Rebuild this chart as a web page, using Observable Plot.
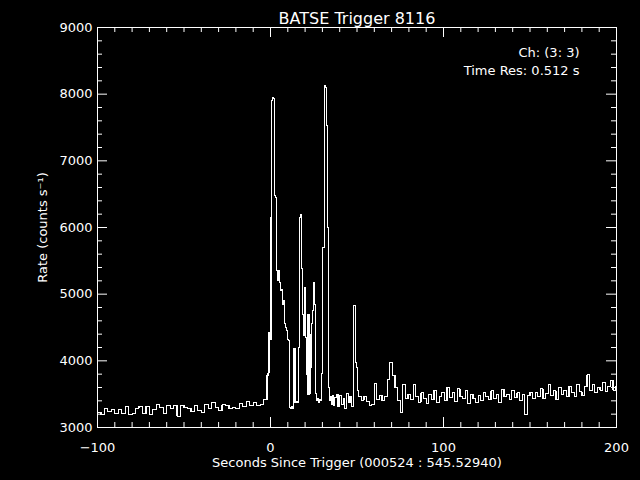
<!DOCTYPE html>
<html><head><meta charset="utf-8">
<script src="https://cdn.jsdelivr.net/npm/d3@7"></script>
<script src="https://cdn.jsdelivr.net/npm/@observablehq/plot@0.6"></script>
<style>html,body{margin:0;padding:0;background:#000;}</style>
</head><body><div id="chart"></div>
<script>
// ---- data ----
const title = "BATSE Trigger 8116";
const xLabel = "Seconds Since Trigger (000524 : 545.52940)";
const yLabel = "Rate (counts s\u207B\u00B9)";
const noteLines = ["Ch: (3: 3)", "Time Res: 0.512 s"];

const xMajor = [-100, 0, 100, 200];
const yMajor = [3000, 4000, 5000, 6000, 7000, 8000, 9000];

// pre-trigger background: bins of 2 s starting at -100
const preStart = -100, preStep = 2;
const preRate = [3230,3200,3280,3240,3270,3210,3265,3210,3310,3200,
                 3215,3290,3315,3210,3310,3200,3265,3340,3300,3210,
                 3330,3285,3330,3170,3330,3300,3290,3240,3330,3260,
                 3230,3340,3280,3370,3300,3250,3340,3330,3290,3300,
                 3290,3360,3320,3390,3330,3380,3330,3340,3420];

// burst region: bin start times and rates
const burstTime = [-2.0,-1.4,-0.9,-0.3,0.3,0.8,1.3,1.9,2.5,3.1,3.6,4.1,4.7,5.2,5.8,6.3,6.9,7.4,8.0,8.5,
                   9.1,9.6,10.2,10.8,11.4,12.0,12.5,13.1,13.6,14.2,14.8,15.4,16.0,16.6,17.2,17.8,18.4,18.9,19.5,20.0,
                   20.6,21.2,21.7,22.2,22.8,23.3,23.9,24.4,25.0,25.6,26.2,26.7,27.3,27.9,28.4,29.0,29.6,30.2,31.0,31.6,
                   32.2,32.9,33.5,34.1,34.7,35.3,35.9,36.5,37.2,38.0,39.0,40.0,41.0,42.0,43.0,44.0,45.0,46.0,47.0,48.2,
                   49.1,49.7,50.4];
const burstRate = [3780,3820,4420,4320,6150,7900,7950,7930,6480,6450,5350,5200,5350,5180,5050,5070,4850,4900,4560,4500,
                   4450,4320,4300,3300,3290,3310,3290,3550,4190,3370,3390,3370,4200,6150,6200,5390,4700,4380,5100,4350,
                   3800,3500,4700,3500,4400,3900,4560,4755,5175,4850,3510,3400,3440,3380,3420,3400,3810,5700,8130,8100,
                   7530,6000,3600,3400,3460,3350,3480,3330,3450,3500,3320,3480,3350,3440,3290,3510,3380,3470,3320,4830,
                   3980,3900,3560];

// post-burst background: bins of 1.5 s starting at 51
const postStart = 51, postStep = 1.5;
const postRate = [3460,3410,3470,3390,3330,3340,3660,3420,3480,3400,
                  3470,3720,3980,3780,3600,3400,3230,3650,3440,3500,
                  3420,3650,3460,3380,3520,3430,3360,3490,3420,3560,
                  3380,3470,3520,3400,3600,3450,3530,3390,3580,3470,
                  3430,3560,3360,3500,3440,3380,3480,3400,3520,3460,
                  3420,3550,3430,3490,3380,3570,3460,3500,3420,3560,
                  3450,3520,3400,3500,3190,3480,3530,3440,3520,3470,
                  3580,3440,3510,3640,3480,3550,3420,3600,3500,3560,
                  3460,3620,3520,3470,3650,3540,3480,3620,3790,3560,
                  3640,3520,3600,3560,3680,3540,3610,3700,3560,3620];

// ---- build table ----
const data = [];
preRate.forEach((r, i) => data.push({t: preStart + i * preStep, rate: r}));
burstTime.forEach((t, i) => data.push({t, rate: burstRate[i]}));
postRate.forEach((r, i) => data.push({t: postStart + i * postStep, rate: r}));
data.push({t: 200, rate: postRate[postRate.length - 1]});

const xMinor = d3.range(-100, 201, 10).filter(v => !xMajor.includes(v));
const yMinor = d3.range(3000, 9001, 200).filter(v => !yMajor.includes(v));

const fmt = d => d < 0 ? "\u2212" + Math.abs(d) : String(d);
const W = 640, H = 480, mL = 97, mR = 24, mT = 27, mB = 53;
const fw = W - mL - mR, fh = H - mT - mB;
const white = "#fff";

const chart = Plot.plot({
  width: W, height: H,
  marginLeft: mL, marginRight: mR, marginTop: mT, marginBottom: mB,
  style: {background: "#000", color: white, fontFamily: "DejaVu Sans", fontSize: "13px"},
  x: {domain: [-100, 200]},
  y: {domain: [3000, 9000]},
  marks: [
    Plot.line(data, {x: "t", y: "rate", curve: "step-after", stroke: white, strokeWidth: 1.2, clip: true, shapeRendering: "crispEdges"}),
    Plot.frame({stroke: white, shapeRendering: "crispEdges"}),
    // inward ticks, bottom & top
    Plot.tickX(xMajor, {x: d => d, stroke: white, insetTop: fh - 10}),
    Plot.tickX(xMajor, {x: d => d, stroke: white, insetBottom: fh - 10}),
    Plot.tickX(xMinor, {x: d => d, stroke: white, insetTop: fh - 5}),
    Plot.tickX(xMinor, {x: d => d, stroke: white, insetBottom: fh - 5}),
    // inward ticks, left & right
    Plot.tickY(yMajor, {y: d => d, stroke: white, insetRight: fw - 10}),
    Plot.tickY(yMajor, {y: d => d, stroke: white, insetLeft: fw - 10}),
    Plot.tickY(yMinor, {y: d => d, stroke: white, insetRight: fw - 5}),
    Plot.tickY(yMinor, {y: d => d, stroke: white, insetLeft: fw - 5}),
    Plot.axisX(xMajor, {tickSize: 0, tickPadding: 15, tickFormat: fmt, label: null, fill: white, fontSize: 13}),
    Plot.axisY(yMajor, {tickSize: 0, tickPadding: 5, tickFormat: fmt, label: null, fill: white, fontSize: 13}),
    Plot.text([xLabel], {frameAnchor: "bottom", dy: 39, fill: white, fontSize: 13}),
    Plot.text([yLabel], {frameAnchor: "left", dx: -55, rotate: -90, textAnchor: "middle", fill: white, fontSize: 13}),
    Plot.text([title], {frameAnchor: "top", dy: -15, fill: white, fontSize: 16}),
    Plot.text([noteLines[0]], {frameAnchor: "top-right", dx: -37, dy: 20, textAnchor: "end", fill: white, fontSize: 13}),
    Plot.text([noteLines[1]], {frameAnchor: "top-right", dx: -37, dy: 38, textAnchor: "end", fill: white, fontSize: 13})
  ]
});
document.getElementById("chart").appendChild(chart);
</script>
</body></html>
